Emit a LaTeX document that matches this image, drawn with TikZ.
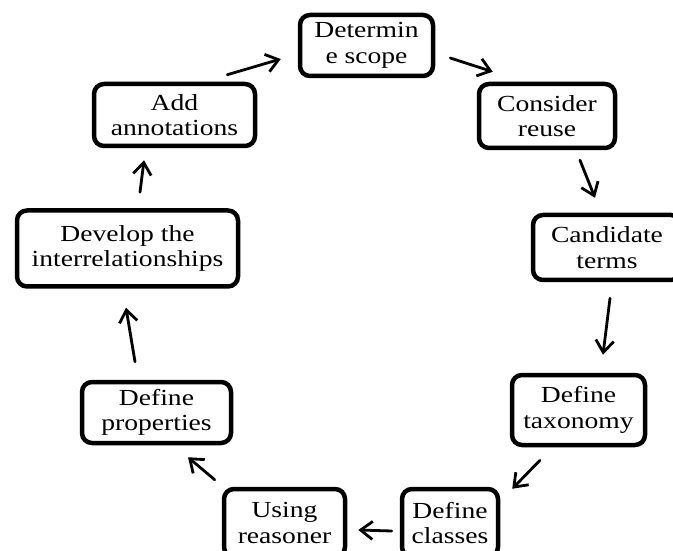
\documentclass[tikz,border=0pt]{standalone}
\usepackage{fontspec}
\setmainfont{Liberation Serif}[FakeStretch=1.2]
\usetikzlibrary{arrows.meta,calc}

\begin{document}
\begin{tikzpicture}[x=1pt,y=1pt,
	stepbox/.style={draw, line width=4.5pt, rounded corners=10pt, align=center, inner sep=0pt, font=\fontsize{23}{25.5}\selectfont},
	flow/.style={line width=2.8pt, line cap=round, -{Straight Barb[length=12pt,width=18pt]}}]
	\useasboundingbox (0,0) rectangle (673,550);
	\clip (0,0) rectangle (673,550);

	\node [stepbox, minimum width=133pt, minimum height=61pt] (det) at (366.5,504.5) {Determin\\e scope};
	\node [stepbox, minimum width=136pt, minimum height=64pt] (cons) at (547,434) {Consider\\reuse};
	\node [stepbox, minimum width=148pt, minimum height=65pt] (cand) at (607,302.5) {Candidate\\terms};
	\node [stepbox, minimum width=133pt, minimum height=70pt] (tax) at (578.5,140) {Define\\taxonomy};
	\node [stepbox, minimum width=96pt, minimum height=68pt] (cls) at (450,27) {Define\\classes};
	\node [stepbox, minimum width=121pt, minimum height=68pt] (rsn) at (284.5,27) {Using\\reasoner};
	\node [stepbox, minimum width=149pt, minimum height=61pt] (prop) at (156.5,137.5) {Define\\properties};
	\node [stepbox, minimum width=221pt, minimum height=76pt] (dev) at (127.5,301.5) {Develop the\\interrelationships};
	\node [stepbox, minimum width=161pt, minimum height=62pt] (add) at (174.5,435) {Add\\annotations};

	\draw [flow] ($(add.north east)+(-30,7)$) -- ($(det.west)+(-17,-13.5)$);
	\draw [flow] ($(det.east)+(15,-12.5)$) -- ($(cons.north west)+(16,10)$);
	\draw [flow] ($(cons.south)+(33,-10)$) -- ($(cand.north)+(-12,15)$);
	\draw [flow] ($(cand.south)+(3,-16)$) -- ($(tax.north)+(24.5,18)$);
	\draw [flow] ($(tax.south)+(-38.5,-13)$) -- ($(cls.north east)+(12,-2)$);
	\draw [flow] ($(cls.west)+(-8,-8)$) -- ($(rsn.east)+(11,-7)$);
	\draw [flow] ($(rsn.north west)+(-7,7)$) -- ($(prop.south)+(31.5,-12)$);
	\draw [flow] ($(prop.north)+(-21.5,18)$) -- ($(dev.south)+(-1.5,-19)$);
	\draw [flow] ($(dev.north)+(12.5,16)$) -- ($(add.south)+(-30.5,-12)$);
%	\draw [step=50] (0,0) grid (673,550);
\end{tikzpicture}
\end{document}
